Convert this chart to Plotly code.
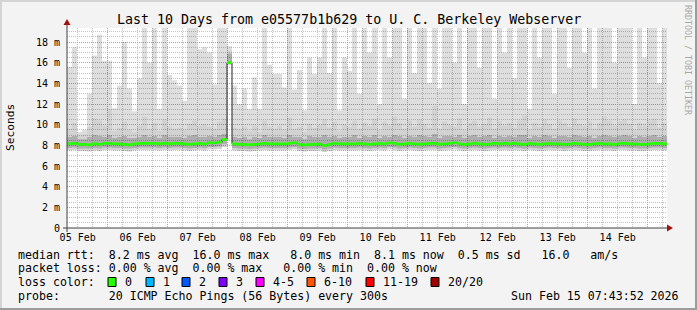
import plotly.graph_objects as go
import pandas as pd

# ---------------- data ----------------
start = pd.Timestamp("2026-02-05 07:44")
end = pd.Timestamp("2026-02-15 07:44")
times = list(pd.date_range(start, periods=120, freq="2h")) + [end]

smoke_max = [
    15.6, 17.5, 9.3, 9.5, 13.0, 16.7, 18.7, 16.2, 16.2, 11.6,
    13.8, 18.0, 13.5, 11.3, 14.5, 19.4, 16.0, 19.4, 11.5, 19.4,
    14.8, 14.3, 13.8, 12.3, 19.4, 19.4, 17.3, 17.5, 17.0, 13.9,
    19.4, 19.4, 17.6, 13.8, 12.0, 13.5, 11.5, 14.6, 11.5, 19.4,
    15.8, 14.9, 14.9, 13.6, 19.4, 13.4, 15.3, 11.4, 16.5, 14.9,
    16.5, 19.4, 15.0, 19.4, 11.4, 16.5, 15.2, 19.4, 13.0, 19.4,
    17.0, 19.4, 12.0, 19.4, 16.5, 19.4, 19.4, 12.5, 19.4, 15.0,
    19.4, 19.4, 14.0, 19.4, 13.5, 19.4, 19.4, 16.0, 19.4, 12.0,
    19.4, 19.4, 15.5, 19.4, 19.4, 12.5, 19.4, 17.0, 19.4, 14.5,
    19.4, 19.4, 11.5, 19.4, 16.5, 19.4, 19.4, 13.0, 19.4, 19.4,
    15.5, 19.4, 19.4, 17.0, 19.4, 13.5, 19.4, 19.4, 19.4, 16.0,
    19.4, 19.4, 19.4, 12.0, 19.4, 16.5, 19.4, 19.4, 14.0, 19.4,
]
smoke_mid = [
    9.6, 10.2, 9.0, 9.1, 9.8, 10.6, 10.4, 9.9, 11.5, 9.4,
    9.7, 10.3, 9.5, 9.3, 9.9, 10.8, 9.6, 10.2, 9.4, 10.5,
    9.8, 9.6, 9.7, 9.5, 10.1, 10.4, 9.9, 10.0, 9.8, 9.6,
    10.3, 10.6, 17.2, 9.7, 9.5, 9.8, 9.4, 9.9, 9.3, 10.4,
    9.8, 9.6, 9.9, 9.5, 10.7, 9.6, 9.8, 9.3, 10.1, 9.7,
    10.0, 10.5, 9.7, 10.3, 9.4, 10.0, 9.8, 10.4, 9.6, 10.2,
    9.9, 10.6, 9.5, 10.3, 9.9, 10.8, 10.2, 9.6, 10.4, 9.8,
    10.5, 10.1, 9.7, 11.8, 9.6, 10.3, 10.0, 9.8, 10.6, 9.5,
    10.2, 10.4, 9.8, 10.1, 10.7, 9.6, 10.3, 9.9, 10.2, 9.7,
    10.4, 10.9, 9.5, 10.2, 9.8, 10.5, 10.1, 9.6, 10.4, 10.2,
    9.8, 10.6, 10.1, 9.9, 10.3, 9.6, 10.2, 10.8, 10.4, 9.9,
    10.3, 10.5, 10.1, 9.5, 10.2, 9.9, 10.4, 10.6, 9.7, 10.2,
]
smoke_q3 = [
    8.8, 8.9, 8.6, 8.6, 8.8, 9.0, 8.9, 8.8, 9.0, 8.7,
    8.8, 8.9, 8.7, 8.7, 8.8, 9.0, 8.8, 8.9, 8.7, 9.0,
    8.8, 8.8, 8.8, 8.7, 8.9, 9.0, 8.8, 8.8, 8.9, 8.8,
    9.0, 9.1, 16.9, 8.8, 8.7, 8.8, 8.6, 8.8, 8.7, 9.0,
    8.8, 8.8, 8.8, 8.7, 9.0, 8.8, 8.8, 8.6, 8.9, 8.8,
    8.8, 9.0, 8.8, 8.9, 8.7, 8.8, 8.8, 9.0, 8.7, 8.9,
    8.8, 9.0, 8.7, 8.9, 8.8, 9.0, 8.9, 8.7, 8.9, 8.8,
    9.0, 8.9, 8.8, 9.1, 8.7, 8.9, 8.9, 8.8, 9.0, 8.7,
    8.9, 9.0, 8.8, 8.9, 9.0, 8.7, 8.9, 8.8, 8.9, 8.8,
    9.0, 9.0, 8.7, 8.9, 8.8, 9.0, 8.9, 8.7, 8.9, 8.9,
    8.8, 9.0, 8.9, 8.8, 8.9, 8.7, 8.9, 9.0, 8.9, 8.8,
    8.9, 9.0, 8.9, 8.7, 8.9, 8.8, 8.9, 9.0, 8.8, 8.9,
]
smoke_q1 = [
    7.75, 7.8, 7.7, 7.7, 7.7, 7.75, 7.7, 7.8, 7.8, 7.75,
    7.75, 7.7, 7.7, 7.75, 7.8, 7.8, 7.8, 7.8, 7.75, 7.8,
    7.75, 7.8, 7.8, 7.75, 7.7, 7.75, 7.8, 7.75, 7.85, 7.85,
    7.9, 8.1, 15.85, 7.75, 7.7, 7.7, 7.65, 7.7, 7.75, 7.8,
    7.75, 7.75, 7.75, 7.75, 7.8, 7.85, 7.7, 7.65, 7.7, 7.7,
    7.75, 7.6, 7.7, 7.8, 7.75, 7.75, 7.75, 7.75, 7.8, 7.75,
    7.7, 7.75, 7.8, 7.75, 7.85, 7.8, 7.7, 7.75, 7.8, 7.75,
    7.7, 7.75, 7.8, 7.8, 7.7, 7.75, 7.8, 7.85, 7.75, 7.7,
    7.75, 7.8, 7.75, 7.7, 7.75, 7.8, 7.75, 7.8, 7.75, 7.8,
    7.75, 7.7, 7.8, 7.75, 7.7, 7.75, 7.8, 7.75, 7.75, 7.7,
    7.75, 7.8, 7.75, 7.7, 7.7, 7.75, 7.8, 7.75, 7.75, 7.7,
    7.8, 7.8, 7.75, 7.75, 7.7, 7.7, 7.75, 7.8, 7.8, 7.75,
]
smoke_min = [
    7.5, 7.55, 7.45, 7.45, 7.4, 7.5, 7.45, 7.55, 7.55, 7.5,
    7.5, 7.45, 7.4, 7.5, 7.55, 7.55, 7.55, 7.55, 7.5, 7.55,
    7.5, 7.55, 7.55, 7.5, 7.45, 7.5, 7.55, 7.5, 7.6, 7.6,
    7.65, 7.85, 15.8, 7.5, 7.45, 7.45, 7.4, 7.45, 7.5, 7.55,
    7.5, 7.5, 7.5, 7.5, 7.55, 7.6, 7.45, 7.4, 7.45, 7.45,
    7.5, 7.35, 7.45, 7.55, 7.5, 7.5, 7.5, 7.5, 7.55, 7.5,
    7.45, 7.5, 7.55, 7.5, 7.6, 7.55, 7.45, 7.5, 7.55, 7.5,
    7.45, 7.5, 7.55, 7.55, 7.45, 7.5, 7.55, 7.6, 7.5, 7.45,
    7.5, 7.55, 7.5, 7.45, 7.5, 7.55, 7.5, 7.55, 7.5, 7.55,
    7.5, 7.45, 7.55, 7.5, 7.45, 7.5, 7.55, 7.5, 7.5, 7.45,
    7.5, 7.55, 7.5, 7.45, 7.45, 7.5, 7.55, 7.5, 7.5, 7.45,
    7.55, 7.55, 7.5, 7.5, 7.45, 7.45, 7.5, 7.55, 7.55, 7.5,
]
median_rtt = [
    8.15, 8.2, 8.1, 8.1, 8.05, 8.15, 8.1, 8.2, 8.2, 8.15,
    8.15, 8.1, 8.05, 8.15, 8.2, 8.2, 8.2, 8.2, 8.15, 8.2,
    8.15, 8.2, 8.2, 8.15, 8.1, 8.15, 8.2, 8.15, 8.25, 8.25,
    8.3, 8.55, 16.0, 8.15, 8.1, 8.1, 8.05, 8.1, 8.15, 8.2,
    8.15, 8.15, 8.15, 8.15, 8.2, 8.25, 8.1, 8.05, 8.1, 8.1,
    8.15, 8.0, 8.1, 8.2, 8.15, 8.15, 8.15, 8.15, 8.2, 8.15,
    8.1, 8.15, 8.2, 8.15, 8.25, 8.2, 8.1, 8.15, 8.2, 8.15,
    8.1, 8.15, 8.2, 8.2, 8.1, 8.15, 8.2, 8.25, 8.15, 8.1,
    8.15, 8.2, 8.15, 8.1, 8.15, 8.2, 8.15, 8.2, 8.15, 8.2,
    8.15, 8.1, 8.2, 8.15, 8.1, 8.15, 8.2, 8.15, 8.15, 8.1,
    8.15, 8.2, 8.15, 8.1, 8.1, 8.15, 8.2, 8.15, 8.15, 8.1,
    8.2, 8.2, 8.15, 8.15, 8.1, 8.1, 8.15, 8.2, 8.2, 8.15,
]

y_tick_vals = [0, 2, 4, 6, 8, 10, 12, 14, 16, 18]
y_tick_text = ["0", "2 m", "4 m", "6 m", "8 m", "10 m", "12 m", "14 m", "16 m", "18 m"]
day_midnights = list(pd.date_range("2026-02-06", "2026-02-15", freq="D"))
day_noons = list(pd.date_range("2026-02-05 12:00", "2026-02-14 12:00", freq="D"))
day_labels = [d.strftime("%d %b") for d in day_noons]

loss_labels = ["0", "1", "2", "3", "4-5", "6-10", "11-19", "20/20"]
loss_colors = ["#26ff00", "#00b8ff", "#0059ff", "#7e00ff", "#ff00ff", "#ff5500", "#ff0000", "#a10000"]

legend_lines = [
    "median rtt:  8.2 ms avg  16.0 ms max   8.0 ms min  8.1 ms now  0.5 ms sd   16.0   am/s",
    "packet loss: 0.00 % avg  0.00 % max   0.00 % min  0.00 % now",
    "loss color:",
    "probe:       20 ICMP Echo Pings (56 Bytes) every 300s",
]
title_text = "Last 10 Days from e05577b1b629 to U. C. Berkeley Webserver"
stamp_text = "Sun Feb 15 07:43:52 2026"

def ext(a):
    return list(a) + [a[-1]]

for arr in (smoke_max, smoke_mid, smoke_q3, smoke_q1, smoke_min, median_rtt):
    assert len(arr) == 120, len(arr)

# ---------------- geometry ----------------
W, H = 697, 310
PL, PR, PT, PB = 67, 667, 28, 228
MONO = "DejaVu Sans Mono"

def px(X):
    return (X - PL) / (PR - PL)

def py(Y):
    return (PB - Y) / (PB - PT)

fig = go.Figure()

def band(lo, hi, color):
    fig.add_trace(go.Scatter(x=times, y=ext(lo), mode="lines", line=dict(width=0, shape="hv"),
                             hoverinfo="skip", showlegend=False))
    fig.add_trace(go.Scatter(x=times, y=ext(hi), mode="lines", line=dict(width=0, shape="hv"),
                             fill="tonexty", fillcolor=color, hoverinfo="skip", showlegend=False))

band(smoke_min, smoke_max, "rgba(0,0,0,0.13)")
band(smoke_min, smoke_mid, "rgba(0,0,0,0.05)")
band(smoke_q1, smoke_q3, "rgba(0,0,0,0.17)")

fig.add_trace(go.Scatter(x=times, y=ext(median_rtt), mode="lines",
                         line=dict(color="#202020", width=1, shape="hv"),
                         hoverinfo="skip", showlegend=False))
GW = 0.13
band([m - GW for m in median_rtt], [m + GW for m in median_rtt], "#26ff00")

# dummy trace for the label axis
fig.add_trace(go.Scatter(x=[start, end], y=[None, None], xaxis="x2", mode="lines",
                         showlegend=False, hoverinfo="skip"))

grid_minor = "#c4c4c4"
grid_major = "#f08c8c"
dash = "1px,1px"

fig.update_layout(
    width=W, height=H, autosize=False,
    margin=dict(l=PL, r=W - PR, t=PT, b=H - PB, pad=0),
    paper_bgcolor="#f3f3f3", plot_bgcolor="#ffffff",
    showlegend=False,
    xaxis=dict(type="date", range=[start, end], tickmode="array", tickvals=day_midnights,
               showticklabels=False, ticks="", showgrid=True, gridcolor=grid_major,
               griddash=dash, gridwidth=1, zeroline=False, showline=False,
               minor=dict(dtick=6 * 3600 * 1000, tick0="2026-02-05 00:00", showgrid=True,
                          gridcolor=grid_minor, griddash=dash, gridwidth=1, ticks="")),
    xaxis2=dict(type="date", overlaying="x", anchor="y", side="bottom", range=[start, end],
                tickmode="array", tickvals=day_noons, ticktext=day_labels, showgrid=False,
                ticks="", zeroline=False, showline=False, ticklabelstandoff=2,
                tickfont=dict(family=MONO, size=10, color="#000000")),
    yaxis=dict(range=[0, 19.36], tickmode="array", tickvals=y_tick_vals, ticktext=y_tick_text,
               ticks="", showgrid=True, gridcolor=grid_major, griddash=dash, gridwidth=1,
               zeroline=False, showline=False, ticklabelstandoff=6,
               tickfont=dict(family=MONO, size=10, color="#000000"),
               minor=dict(dtick=0.5, tick0=0, showgrid=True, gridcolor=grid_minor,
                          griddash=dash, gridwidth=1, ticks="")),
)

shapes = []
axis_col = "#404040"
arrow_col = "#a01010"
# axis lines
shapes.append(dict(type="line", xref="paper", yref="paper", x0=px(67), x1=px(67), y0=py(232), y1=py(22),
                   line=dict(color=axis_col, width=1)))
shapes.append(dict(type="line", xref="paper", yref="paper", x0=px(63), x1=px(670), y0=py(228), y1=py(228),
                   line=dict(color=axis_col, width=1)))
# arrows
shapes.append(dict(type="path", xref="paper", yref="paper",
                   path=f"M {px(63.5)} {py(25)} L {px(67)} {py(19)} L {px(70.5)} {py(25)} Z",
                   fillcolor=arrow_col, line=dict(width=0)))
shapes.append(dict(type="path", xref="paper", yref="paper",
                   path=f"M {px(667)} {py(224.5)} L {px(673)} {py(228)} L {px(667)} {py(231.5)} Z",
                   fillcolor=arrow_col, line=dict(width=0)))
# 3D frame
shapes.append(dict(type="rect", xref="paper", yref="paper", x0=px(0), x1=px(697), y0=py(0), y1=py(2),
                   fillcolor="#d4d4d4", line=dict(width=0), layer="below"))
shapes.append(dict(type="rect", xref="paper", yref="paper", x0=px(0), x1=px(2), y0=py(0), y1=py(310),
                   fillcolor="#d4d4d4", line=dict(width=0), layer="below"))
shapes.append(dict(type="rect", xref="paper", yref="paper", x0=px(0), x1=px(697), y0=py(308), y1=py(310),
                   fillcolor="#9c9c9c", line=dict(width=0), layer="below"))
shapes.append(dict(type="rect", xref="paper", yref="paper", x0=px(695), x1=px(697), y0=py(0), y1=py(310),
                   fillcolor="#9c9c9c", line=dict(width=0), layer="below"))

annotations = []
annotations.append(dict(text=title_text, xref="paper", yref="paper", x=px(348.5), y=py(19),
                        xanchor="center", yanchor="middle", showarrow=False,
                        font=dict(family=MONO, size=13.3, color="#000000")))
annotations.append(dict(text="Seconds", xref="paper", yref="paper", x=px(10), y=py(128),
                        xanchor="center", yanchor="middle", textangle=-90, showarrow=False,
                        font=dict(family=MONO, size=11.2, color="#000000")))
annotations.append(dict(text="RRDTOOL / TOBI OETIKER", xref="paper", yref="paper", x=px(688), y=py(60),
                        xanchor="center", yanchor="middle", textangle=90, showarrow=False,
                        font=dict(family=MONO, size=8.3, color="#a8a8a8")))
line_ys = [255, 268, 282, 296]
for txt, yy in zip(legend_lines, line_ys):
    annotations.append(dict(text=txt.replace(" ", "\u00a0"), xref="paper", yref="paper",
                            x=px(16), y=py(yy), xanchor="left", yanchor="middle", showarrow=False,
                            font=dict(family=MONO, size=11.6, color="#000000")))
annotations.append(dict(text=stamp_text.replace(" ", "\u00a0"), xref="paper", yref="paper",
                        x=px(681), y=py(296), xanchor="right", yanchor="middle", showarrow=False,
                        font=dict(family=MONO, size=11.6, color="#000000")))
box_x = [108, 146, 182, 219, 256, 307, 366, 431]
for bx, lab, col in zip(box_x, loss_labels, loss_colors):
    shapes.append(dict(type="rect", xref="paper", yref="paper", x0=px(bx), x1=px(bx + 8),
                       y0=py(286.5), y1=py(277.5), fillcolor=col, line=dict(color="#000000", width=1)))
    annotations.append(dict(text=lab, xref="paper", yref="paper", x=px(bx + 15), y=py(282),
                            xanchor="left", yanchor="middle", showarrow=False,
                            font=dict(family=MONO, size=11.6, color="#000000")))

fig.update_layout(shapes=shapes, annotations=annotations)
fig.write_html("out.html")
